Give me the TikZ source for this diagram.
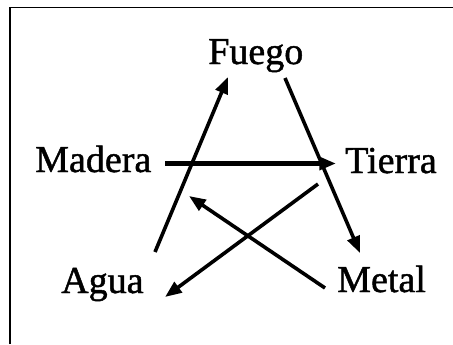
\documentclass[tikz,border=0pt]{standalone}
\usepackage{fontspec}
\setmainfont{Liberation Serif}[FakeBold=1.2]
\usetikzlibrary{arrows.meta}
\begin{document}
\begin{tikzpicture}[x=0.75pt,y=-0.75pt,
  lbl/.style={anchor=base west,inner sep=0pt,font=\fontsize{28.5}{30}\selectfont},
  conn/.style={line width=2.7pt,-{Triangle[length=12.5pt,width=9.5pt]}},
  frameline/.style={line width=1pt}]
\useasboundingbox (0,0) rectangle (453,344);
\draw[frameline] (10,344) -- (10,7.5) -- (453,7.5);
\node[lbl] (fuego) at (208,64) {Fuego};
\node[lbl] (madera) at (35,172) {Madera};
\node[lbl] (tierra) at (345,173) {Tierra};
\node[lbl] (agua) at (61,293) {Agua};
\node[lbl] (metal) at (337,292) {Metal};
% connector end points
\coordinate (aguaout) at (155,252);
\coordinate (fuegoin) at (228,77);
\coordinate (fuegoout) at (285,78);
\coordinate (metalin) at (360,253);
\coordinate (maderaout) at (165,163.5);
\coordinate (tierrain) at (336,163.5);
\coordinate (tierraout) at (318,184);
\coordinate (aguain) at (165,297);
\coordinate (metalout) at (325,288);
\coordinate (maderain) at (189,196);
\draw[conn] (aguaout) -- (fuegoin);
\draw[conn] (fuegoout) -- (metalin);
\draw[conn,line width=3.1pt] (maderaout) -- (tierrain);
\draw[conn] (tierraout) -- (aguain);
\draw[conn] (metalout) -- (maderain);
\end{tikzpicture}
\end{document}
